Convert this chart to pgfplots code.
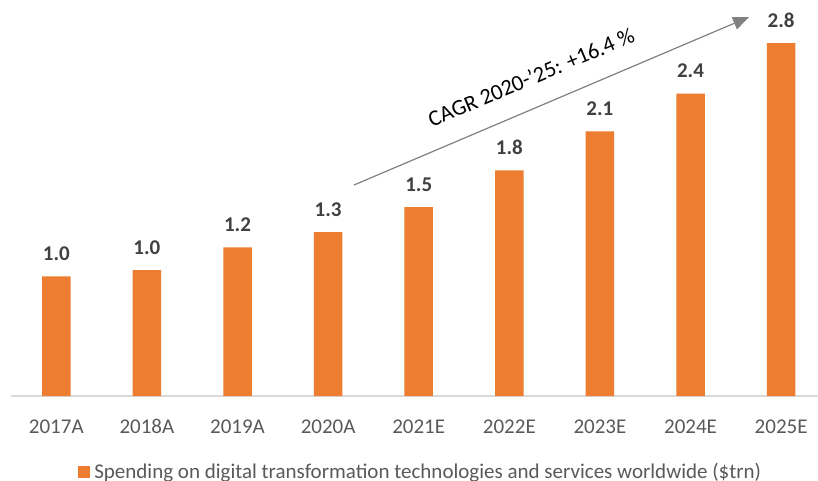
\documentclass[border=0pt]{standalone}
\usepackage{fontspec}
\setmainfont{Carlito}
\usepackage{pgfplots}
\pgfplotsset{compat=1.18}
\usetikzlibrary{arrows.meta}
\definecolor{barorange}{HTML}{ED7D31}
\definecolor{lblgrey}{HTML}{404040}
\definecolor{tickgrey}{HTML}{595959}
\definecolor{axisgrey}{HTML}{D9D9D9}
\definecolor{arrowgrey}{HTML}{808080}
\begin{document}
\fontsize{10.5}{12.6}\selectfont
\begin{tikzpicture}
\path[use as bounding box] (-5.5pt,-42.5pt) rectangle (403.5pt,198pt);
\begin{axis}[
  at={(0,0)}, anchor=south west,
  scale only axis,
  width=403.5pt, height=198pt,
  xmin=-0.5, xmax=8.407,
  ymin=0, ymax=3.143,
  axis x line=bottom,
  axis y line=none,
  x axis line style={-, draw=axisgrey, line width=0.75pt},
  major tick length=0pt,
  xtick={0,1,2,3,4,5,6,7,8},
  xticklabels={2017A,2018A,2019A,2020A,2021E,2022E,2023E,2024E,2025E},
  xticklabel style={anchor=base, yshift=-18.5pt, text=tickgrey, font=\fontsize{10.5}{12.6}\selectfont},
  ytick=\empty,
  clip=false,
  ybar,
  bar width=14.25pt,
  point meta=explicit symbolic,
  nodes near coords,
  every node near coord/.append style={anchor=base, yshift=8pt, text=lblgrey, font=\fontsize{10.5}{12.6}\selectfont\bfseries},
  legend style={at={(0.509,-0.192)}, anchor=center, draw=none, fill=none,
    font=\fontsize{10.5}{12.6}\selectfont, text=tickgrey, inner sep=0pt},
  legend image code/.code={\fill[barorange] (0pt,-3pt) rectangle (6pt,3pt);},
]
\addplot[fill=barorange, draw=none] coordinates {
  (0,0.95) [1.0]
  (1,1.00) [1.0]
  (2,1.18) [1.2]
  (3,1.30) [1.3]
  (4,1.50) [1.5]
  (5,1.79) [1.8]
  (6,2.10) [2.1]
  (7,2.40) [2.4]
  (8,2.80) [2.8]
};
\addlegendentry{Spending on digital transformation technologies and services worldwide (\$trn)}
\draw[arrowgrey, line width=0.6pt, -{Triangle[length=8pt,width=6.5pt]}] (axis cs:3.287,1.675) -- (axis cs:7.646,3.008);
\node[rotate=23, text=black, inner sep=0pt, font=\fontsize{11.2}{13.4}\selectfont] at (axis cs:5.24,2.53) {CAGR 2020-'25: +16.4~\%};
\end{axis}
\end{tikzpicture}
\end{document}
